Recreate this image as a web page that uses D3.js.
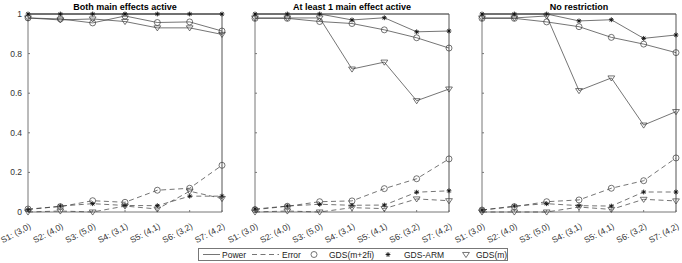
<!DOCTYPE html>
<html>
<head>
<meta charset="utf-8">
<script src="https://cdn.jsdelivr.net/npm/d3@7"></script>
<style>
  body { margin: 0; background: #fff; }
  svg { display: block; font-family: "Liberation Sans", Arial, sans-serif; }
  .tick-label { font-size: 8.5px; fill: #333; }
  .legend-label { font-size: 8.5px; fill: #222; }
  .title { font-size: 9px; font-weight: bold; fill: #000; }
</style>
</head>
<body>
<div id="chart"></div>
<script>
const categories = ['S1: (3,0)', 'S2: (4,0)', 'S3: (5,0)', 'S4: (3,1)', 'S5: (4,1)', 'S6: (3,2)', 'S7: (4,2)'];
const panelTitles = ['Both main effects active', 'At least 1 main effect active', 'No restriction'];
const methods = ['GDS(m+2fi)', 'GDS-ARM', 'GDS(m)'];
const markers = ['circle', 'star', 'triangle'];
const yTicks = [0, 0.2, 0.4, 0.6, 0.8, 1];

// rows follow the methods order: GDS(m+2fi), GDS-ARM, GDS(m)
const powerBoth = [
  [0.98, 0.975, 0.955, 0.99, 0.957, 0.96, 0.914],
  [1, 1, 1, 1, 1, 1, 1],
  [0.98, 0.97, 0.975, 0.962, 0.93, 0.93, 0.897]
];
const errorBoth = [
  [0.015, 0.027, 0.057, 0.049, 0.11, 0.12, 0.236],
  [0.012, 0.03, 0.042, 0.033, 0.032, 0.08, 0.08],
  [0.0, 0.005, 0.0, 0.03, 0.015, 0.105, 0.068]
];
const powerOne = [
  [0.978, 0.978, 0.962, 0.952, 0.92, 0.88, 0.828],
  [1, 1, 1, 0.97, 0.981, 0.91, 0.914],
  [0.98, 0.98, 0.98, 0.722, 0.757, 0.562, 0.621]
];
const errorOne = [
  [0.012, 0.029, 0.052, 0.056, 0.118, 0.168, 0.268],
  [0.015, 0.03, 0.039, 0.034, 0.035, 0.1, 0.107],
  [0.0, 0.005, 0.0, 0.022, 0.017, 0.066, 0.057]
];
const powerAll = [
  [0.978, 0.978, 0.96, 0.936, 0.882, 0.848, 0.805],
  [1, 1, 1, 0.965, 0.971, 0.877, 0.894],
  [0.98, 0.98, 0.99, 0.613, 0.677, 0.439, 0.507]
];
const errorAll = [
  [0.01, 0.027, 0.052, 0.061, 0.12, 0.158, 0.273],
  [0.01, 0.03, 0.042, 0.032, 0.03, 0.101, 0.101],
  [0.0, 0.0, 0.0, 0.025, 0.013, 0.064, 0.056]
];
const powerData = [powerBoth, powerOne, powerAll];
const errorData = [errorBoth, errorOne, errorAll];

const width = 682, height = 263;
const panelLeft = [28, 255, 482];
const panelWidth = 194;
const plotTop = 14, plotBottom = 212;
const lineColor = '#3a3a3a';

const svg = d3.select('#chart').append('svg')
  .attr('width', width)
  .attr('height', height);

const y = d3.scaleLinear().domain([0, 1]).range([plotBottom, plotTop]);

function drawMarker(g, type, cx, cy) {
  if (type === 'circle') {
    g.append('circle')
      .attr('cx', cx).attr('cy', cy).attr('r', 3)
      .attr('fill', 'none').attr('stroke', lineColor).attr('stroke-width', 0.7);
  } else if (type === 'star') {
    const r = 2.4, d = r * 0.707;
    g.append('path')
      .attr('d', `M${cx - r},${cy}H${cx + r}M${cx},${cy - r}V${cy + r}` +
        `M${cx - d},${cy - d}L${cx + d},${cy + d}M${cx - d},${cy + d}L${cx + d},${cy - d}`)
      .attr('stroke', '#111').attr('stroke-width', 0.9).attr('fill', 'none');
  } else {
    const r = 3.4;
    g.append('path')
      .attr('d', `M${cx - r},${cy - r * 0.6}L${cx + r},${cy - r * 0.6}L${cx},${cy + r * 0.9}Z`)
      .attr('fill', 'none').attr('stroke', lineColor).attr('stroke-width', 0.7);
  }
}

panelTitles.forEach((title, p) => {
  const x = d3.scalePoint()
    .domain(categories)
    .range([panelLeft[p], panelLeft[p] + panelWidth]);
  const g = svg.append('g');

  // axes and box
  const x0 = panelLeft[p], x1 = panelLeft[p] + panelWidth;
  g.append('line').attr('x1', x0).attr('x2', x0).attr('y1', plotTop).attr('y2', plotBottom)
    .attr('stroke', '#777').attr('stroke-width', 1);
  g.append('line').attr('x1', x0).attr('x2', x1).attr('y1', plotBottom).attr('y2', plotBottom)
    .attr('stroke', '#777').attr('stroke-width', 1);
  g.append('line').attr('x1', x0).attr('x2', x1).attr('y1', plotTop).attr('y2', plotTop)
    .attr('stroke', '#222').attr('stroke-width', 1);
  g.append('line').attr('x1', x1).attr('x2', x1).attr('y1', plotTop).attr('y2', plotBottom)
    .attr('stroke', '#555').attr('stroke-width', 1);

  yTicks.forEach(t => {
    g.append('line').attr('x1', x0).attr('x2', x0 + 2).attr('y1', y(t)).attr('y2', y(t))
      .attr('stroke', '#777');
    if (p === 0) {
      g.append('text').attr('class', 'tick-label')
        .attr('x', x0 - 6).attr('y', y(t) + 3)
        .attr('text-anchor', 'end')
        .text(t);
    }
  });

  categories.forEach(c => {
    g.append('line').attr('x1', x(c)).attr('x2', x(c)).attr('y1', plotBottom).attr('y2', plotBottom - 2)
      .attr('stroke', '#777');
    g.append('text').attr('class', 'tick-label')
      .attr('text-anchor', 'end')
      .attr('transform', `translate(${x(c) + 3.5},${plotBottom + 16}) rotate(-28)`)
      .text(c);
  });

  g.append('text').attr('class', 'title')
    .attr('x', (x0 + x1) / 2).attr('y', 10)
    .attr('text-anchor', 'middle')
    .text(title);

  const line = d3.line()
    .x((d, i) => x(categories[i]))
    .y(d => y(d));

  [errorData[p], powerData[p]].forEach((set, k) => {
    set.forEach((vals, m) => {
      g.append('path')
        .attr('d', line(vals))
        .attr('fill', 'none')
        .attr('stroke', lineColor)
        .attr('stroke-width', 0.7)
        .attr('stroke-dasharray', k === 0 ? '5,3.5' : null);
      vals.forEach((v, i) => drawMarker(g, markers[m], x(categories[i]), y(v)));
    });
  });
});

// legend
const lg = svg.append('g');
lg.append('rect')
  .attr('x', 198.5).attr('y', 248.5).attr('width', 309).attr('height', 12)
  .attr('fill', '#fff').attr('stroke', '#777').attr('stroke-width', 1);
const ly = 254.5, ty = 257.5;
lg.append('line').attr('x1', 203).attr('x2', 220).attr('y1', ly).attr('y2', ly)
  .attr('stroke', lineColor).attr('stroke-width', 0.7);
lg.append('text').attr('class', 'legend-label').attr('x', 222).attr('y', ty).text('Power');
lg.append('line').attr('x1', 252).attr('x2', 279).attr('y1', ly).attr('y2', ly)
  .attr('stroke', lineColor).attr('stroke-width', 0.7).attr('stroke-dasharray', '5,3.5');
lg.append('text').attr('class', 'legend-label').attr('x', 282).attr('y', ty).text('Error');
const legendMarkX = [314, 388, 466];
const legendTextX = [329, 404, 476];
methods.forEach((name, m) => {
  drawMarker(lg, markers[m], legendMarkX[m], ly);
  lg.append('text').attr('class', 'legend-label').attr('x', legendTextX[m]).attr('y', ty).text(name);
});
</script>
</body>
</html>
